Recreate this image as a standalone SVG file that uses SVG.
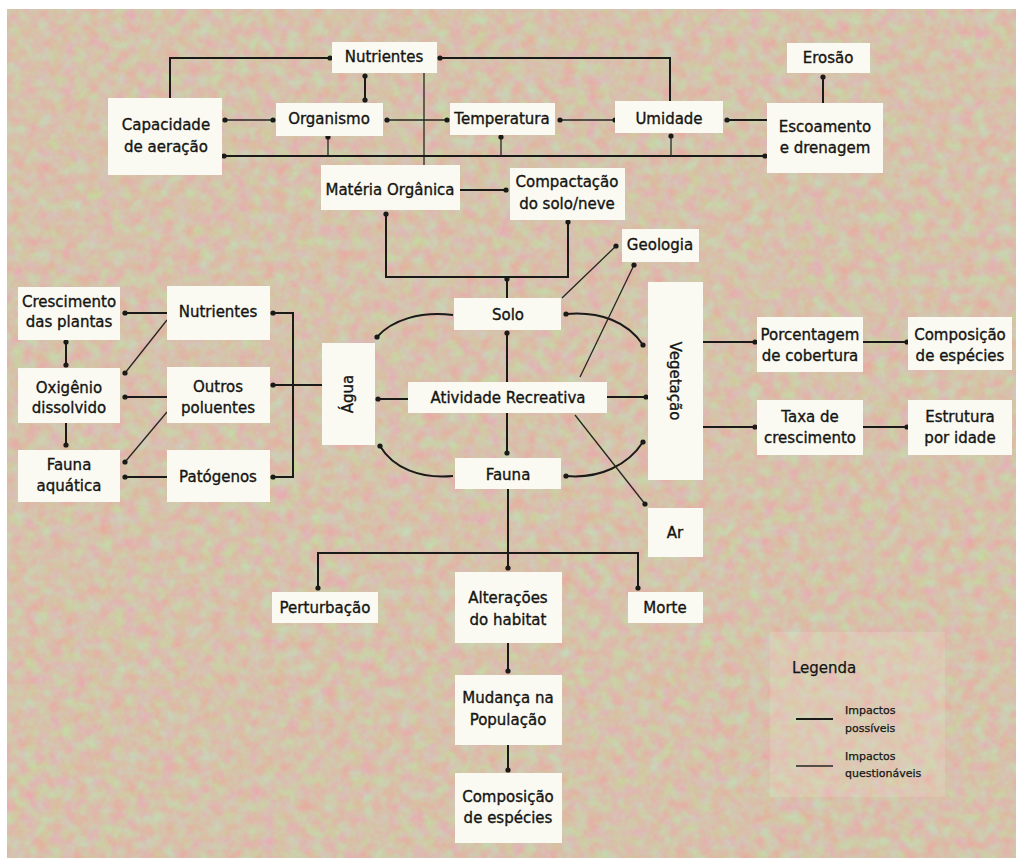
<svg xmlns="http://www.w3.org/2000/svg" width="1016" height="858" viewBox="0 0 1016 858">
<style>
.box{fill:#fbfaf2}
.t{font-family:"DejaVu Sans","Liberation Sans",sans-serif;font-size:15px;fill:#151513;stroke:#151513;stroke-width:0.35;text-anchor:middle}
.lg{font-family:"DejaVu Sans","Liberation Sans",sans-serif;fill:#151513;stroke:#151513;stroke-width:0.25}
.c{stroke:#1a1a18;stroke-width:2;fill:none}
.q{stroke:#262622;stroke-width:1.3;fill:none}
.dot{fill:#1a1a18}
</style>
<defs>
<marker id="d" viewBox="-3 -3 6 6" refX="0" refY="0" markerWidth="6" markerHeight="6" markerUnits="userSpaceOnUse"><circle r="2.6" class="dot"/></marker>
<filter id="tex" x="0" y="0" width="100%" height="100%" color-interpolation-filters="sRGB">
<feTurbulence type="fractalNoise" baseFrequency="0.08" numOctaves="3" seed="7"/>
<feColorMatrix type="matrix" values="0.18 0 0 0 0.75  -0.24 0 0 0 0.88  0 0.16 0 0 0.59  0 0 0 0 1"/>
</filter>
</defs>
<rect width="1016" height="858" fill="#ffffff"/>
<rect x="7" y="9" width="1009" height="849" fill="#d8c4ab"/>
<rect x="7" y="9" width="1009" height="849" filter="url(#tex)"/>
<rect x="770" y="632" width="175" height="165" fill="#f3e4d8" opacity="0.2"/>

<g id="connectors">
<path class="c" d="M170,98 V58 H330" marker-end="url(#d)"/>
<path class="c" d="M670,101 V58 H440" marker-end="url(#d)"/>
<path class="c" d="M365,76 V100" marker-start="url(#d)" marker-end="url(#d)"/>
<path class="q" d="M424,73 V165"/>
<path class="c" d="M224,156 H765" marker-start="url(#d)" marker-end="url(#d)"/>
<path class="q" d="M328,156 V137" marker-end="url(#d)"/>
<path class="q" d="M501,156 V137" marker-end="url(#d)"/>
<path class="q" d="M671,156 V136" marker-end="url(#d)"/>
<path class="q" d="M273,120 H225" marker-start="url(#d)" marker-end="url(#d)"/>
<path class="q" d="M387,120 H447" marker-start="url(#d)" marker-end="url(#d)"/>
<path class="q" d="M560,120 H615" marker-start="url(#d)" marker-end="url(#d)"/>
<path class="c" d="M767,120 H727" marker-end="url(#d)"/>
<path class="c" d="M823,103 V77" marker-end="url(#d)"/>
<path class="c" d="M460,190 H506" marker-end="url(#d)"/>
<path class="c" d="M386,214 V277 H568 V222" marker-start="url(#d)" marker-end="url(#d)"/>
<path class="c" d="M507,277 V298"/>
<circle class="dot" cx="507" cy="279" r="2.6"/>

<path class="c" d="M453,315 C420,311 392,320 377,337" marker-end="url(#d)"/>
<path class="c" d="M453,476 C420,479 393,468 380,446" marker-end="url(#d)"/>
<path class="c" d="M566,314 C600,311 628,322 643,345" marker-start="url(#d)" marker-end="url(#d)"/>
<path class="c" d="M643,442 C628,465 600,479 566,476" marker-start="url(#d)" marker-end="url(#d)"/>
<path class="c" d="M507,333 V382" marker-start="url(#d)"/>
<path class="c" d="M507,413 V453" marker-end="url(#d)"/>
<path class="c" d="M408,399 H378" marker-end="url(#d)"/>
<path class="c" d="M607,397 H646" marker-end="url(#d)"/>
<path class="q" d="M562,298 L616,246" marker-end="url(#d)"/>
<path class="q" d="M580,377 L634,265" marker-end="url(#d)"/>
<path class="q" d="M575,415 L645,504" marker-end="url(#d)"/>

<path class="c" d="M167,313 H125" marker-end="url(#d)"/>
<path class="q" d="M167,320 L125,373" marker-end="url(#d)"/>
<path class="c" d="M66,342 V365" marker-start="url(#d)" marker-end="url(#d)"/>
<path class="c" d="M66,423 V445" marker-end="url(#d)"/>
<path class="c" d="M167,397 H125" marker-end="url(#d)"/>
<path class="q" d="M167,412 L125,462" marker-end="url(#d)"/>
<path class="c" d="M167,477 H125" marker-end="url(#d)"/>
<path class="c" d="M273,313 H293 V477 H273" marker-start="url(#d)" marker-end="url(#d)"/>
<path class="c" d="M322,385 H273" marker-end="url(#d)"/>

<path class="c" d="M703,342 H755" marker-end="url(#d)"/>
<path class="c" d="M863,342 H907" marker-end="url(#d)"/>
<path class="c" d="M703,427 H755" marker-end="url(#d)"/>
<path class="c" d="M863,427 H907" marker-end="url(#d)"/>

<path class="c" d="M508,489 V568" marker-end="url(#d)"/>
<path class="c" d="M318,588 V553 H638 V588" marker-start="url(#d)" marker-end="url(#d)"/>
<path class="c" d="M508,643 V671" marker-end="url(#d)"/>
<path class="c" d="M508,745 V770" marker-end="url(#d)"/>
</g>

<g id="n-nutrientes-top"><rect class="box" x="332" y="42" width="105" height="31"/><text class="t" x="384" y="62">Nutrientes</text></g>
<g id="n-erosao"><rect class="box" x="787" y="43" width="83" height="30"/><text class="t" x="828" y="63">Erosão</text></g>
<g id="n-capacidade"><rect class="box" x="108" y="98" width="114" height="77"/><text class="t" x="166" y="130">Capacidade</text><text class="t" x="166" y="152">de aeração</text></g>
<g id="n-organismo"><rect class="box" x="276" y="103" width="107" height="33"/><text class="t" x="329" y="124">Organismo</text></g>
<g id="n-temperatura"><rect class="box" x="450" y="103" width="105" height="32"/><text class="t" x="502" y="124">Temperatura</text></g>
<g id="n-umidade"><rect class="box" x="615" y="101" width="108" height="32"/><text class="t" x="669" y="124">Umidade</text></g>
<g id="n-escoamento"><rect class="box" x="767" y="103" width="116" height="70"/><text class="t" x="825" y="132">Escoamento</text><text class="t" x="825" y="153">e drenagem</text></g>
<g id="n-materia"><rect class="box" x="321" y="165" width="139" height="45"/><text class="t" x="390" y="195">Matéria Orgânica</text></g>
<g id="n-compactacao"><rect class="box" x="510" y="168" width="115" height="52"/><text class="t" x="567" y="187">Compactação</text><text class="t" x="567" y="209">do solo/neve</text></g>
<g id="n-geologia"><rect class="box" x="622" y="229" width="77" height="33"/><text class="t" x="660" y="250">Geologia</text></g>
<g id="n-solo"><rect class="box" x="454" y="298" width="107" height="32"/><text class="t" x="508" y="320">Solo</text></g>
<g id="n-agua"><rect class="box" x="322" y="343" width="53" height="102"/><text class="t" x="348" y="399" transform="rotate(-90 348 394)">Água</text></g>
<g id="n-atividade"><rect class="box" x="408" y="382" width="199" height="31"/><text class="t" x="508" y="403">Atividade Recreativa</text></g>
<g id="n-fauna"><rect class="box" x="455" y="458" width="106" height="31"/><text class="t" x="508" y="480">Fauna</text></g>
<g id="n-vegetacao"><rect class="box" x="648" y="282" width="55" height="198"/><text class="t" x="675" y="386" transform="rotate(90 675 381)">Vegetação</text></g>
<g id="n-ar"><rect class="box" x="648" y="508" width="55" height="49"/><text class="t" x="675" y="538">Ar</text></g>

<g id="n-crescimento"><rect class="box" x="18" y="287" width="102" height="53"/><text class="t" x="69" y="307">Crescimento</text><text class="t" x="69" y="327">das plantas</text></g>
<g id="n-oxigenio"><rect class="box" x="18" y="368" width="102" height="55"/><text class="t" x="69" y="393">Oxigênio</text><text class="t" x="69" y="413">dissolvido</text></g>
<g id="n-fauna-aquatica"><rect class="box" x="18" y="450" width="102" height="52"/><text class="t" x="69" y="470">Fauna</text><text class="t" x="69" y="491">aquática</text></g>
<g id="n-nutrientes-left"><rect class="box" x="167" y="286" width="103" height="54"/><text class="t" x="218" y="317">Nutrientes</text></g>
<g id="n-outros"><rect class="box" x="167" y="367" width="103" height="56"/><text class="t" x="218" y="392">Outros</text><text class="t" x="218" y="413">poluentes</text></g>
<g id="n-patogenos"><rect class="box" x="167" y="450" width="103" height="52"/><text class="t" x="218" y="482">Patógenos</text></g>

<g id="n-porcentagem"><rect class="box" x="757" y="317" width="106" height="55"/><text class="t" x="810" y="340">Porcentagem</text><text class="t" x="810" y="361">de cobertura</text></g>
<g id="n-composicao-right"><rect class="box" x="908" y="317" width="104" height="53"/><text class="t" x="960" y="340">Composição</text><text class="t" x="960" y="361">de espécies</text></g>
<g id="n-taxa"><rect class="box" x="757" y="400" width="106" height="55"/><text class="t" x="810" y="422">Taxa de</text><text class="t" x="810" y="443">crescimento</text></g>
<g id="n-estrutura"><rect class="box" x="908" y="400" width="104" height="55"/><text class="t" x="960" y="422">Estrutura</text><text class="t" x="960" y="443">por idade</text></g>

<g id="n-perturbacao"><rect class="box" x="272" y="592" width="106" height="31"/><text class="t" x="325" y="613">Perturbação</text></g>
<g id="n-alteracoes"><rect class="box" x="455" y="572" width="107" height="71"/><text class="t" x="508" y="603">Alterações</text><text class="t" x="508" y="625">do habitat</text></g>
<g id="n-morte"><rect class="box" x="628" y="592" width="75" height="31"/><text class="t" x="665" y="613">Morte</text></g>
<g id="n-mudanca"><rect class="box" x="455" y="675" width="107" height="70"/><text class="t" x="508" y="703">Mudança na</text><text class="t" x="508" y="725">População</text></g>
<g id="n-composicao-bottom"><rect class="box" x="455" y="773" width="107" height="70"/><text class="t" x="508" y="802">Composição</text><text class="t" x="508" y="823">de espécies</text></g>

<g id="legend">
<text class="lg" x="792" y="673" font-size="15">Legenda</text>
<line class="c" x1="796" y1="719" x2="833" y2="719"/>
<text class="lg" x="845" y="714" font-size="11">Impactos</text>
<text class="lg" x="845" y="732" font-size="11">possíveis</text>
<line class="q" x1="796" y1="766" x2="833" y2="766"/>
<text class="lg" x="845" y="760" font-size="11">Impactos</text>
<text class="lg" x="845" y="777" font-size="11">questionáveis</text>
</g>
</svg>
